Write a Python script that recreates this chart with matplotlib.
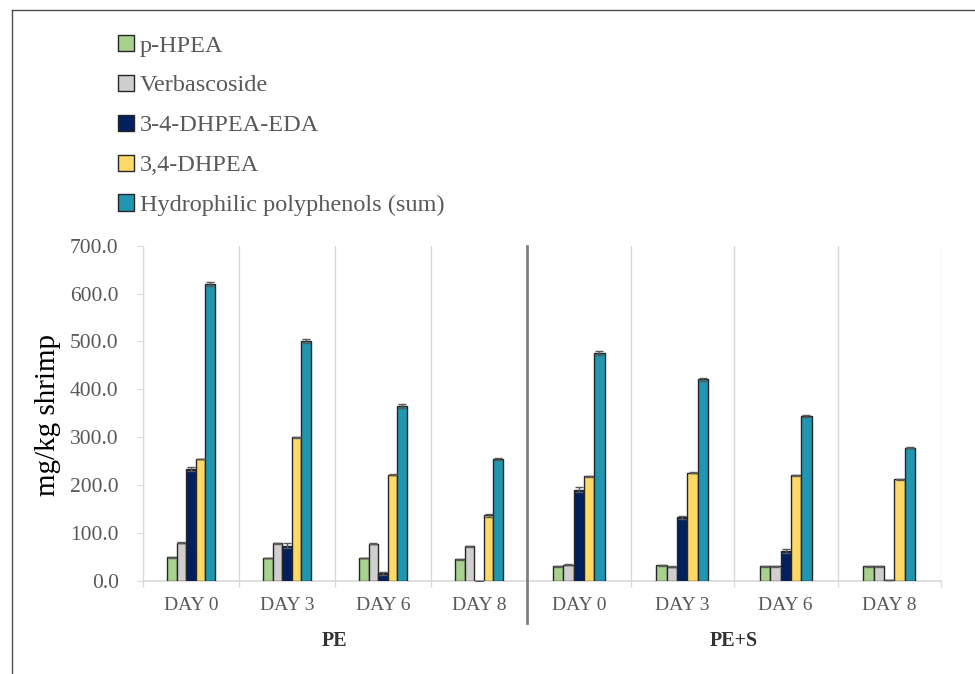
import matplotlib.pyplot as plt
from matplotlib.lines import Line2D
from matplotlib.transforms import blended_transform_factory
import numpy as np

plt.rcParams['font.family'] = ['Liberation Serif', 'DejaVu Serif']

# Data (mg/kg shrimp)
days = ["DAY 0", "DAY 3", "DAY 6", "DAY 8"]
groups = ["PE", "PE+S"]
series = ["p-HPEA", "Verbascoside", "3-4-DHPEA-EDA", "3,4-DHPEA",
          "Hydrophilic polyphenols (sum)"]
colors = ["#A9D18E", "#D0CECE", "#002060", "#FFD966", "#2196B0"]

p_hpea_pe = [49, 47, 47, 44]
p_hpea_pes = [30, 32, 30, 30]
verb_pe = [79, 78, 77, 72]
verb_pes = [33, 29, 30, 30]
eda_pe = [233, 73, 15, 0]
eda_pes = [190, 132, 61, 2]
dhpea_pe = [254, 299, 221, 136]
dhpea_pes = [218, 225, 220, 212]
sum_pe = [620, 500, 364, 254]
sum_pes = [475, 421, 344, 278]

# standard deviations
err_p_hpea_pe = [1, 1, 1, 1]
err_p_hpea_pes = [1, 1, 1, 1]
err_verb_pe = [1, 1, 1, 1]
err_verb_pes = [1, 1, 1, 1]
err_eda_pe = [4, 6, 3, 0]
err_eda_pes = [5, 3, 4, 0]
err_dhpea_pe = [1, 1, 1, 3]
err_dhpea_pes = [1, 1, 1, 1]
err_sum_pe = [4, 4, 4, 3]
err_sum_pes = [4, 3, 3, 2]

vals = {
    "PE": [p_hpea_pe, verb_pe, eda_pe, dhpea_pe, sum_pe],
    "PE+S": [p_hpea_pes, verb_pes, eda_pes, dhpea_pes, sum_pes],
}
errs = {
    "PE": [err_p_hpea_pe, err_verb_pe, err_eda_pe, err_dhpea_pe, err_sum_pe],
    "PE+S": [err_p_hpea_pes, err_verb_pes, err_eda_pes, err_dhpea_pes, err_sum_pes],
}

W, H = 975, 674
fig = plt.figure(figsize=(W / 100, H / 100), dpi=100)

def fx(px):
    return px / W

def fy(py):
    return 1 - py / H

bottom = fy(580.5)
height = fy(245.7) - bottom
ax1 = fig.add_axes([fx(143), bottom, fx(527 - 143), height])
ax2 = fig.add_axes([fx(527), bottom, fx(941 - 527), height])

grid_c = "#D9D9D9"
txt_c = "#595959"
x = np.arange(len(days))
bw = 0.1

for ax, g in zip([ax1, ax2], groups):
    for i in range(len(series)):
        ax.bar(x + (i - 2) * bw, vals[g][i], bw, color=colors[i],
               edgecolor="#262626", linewidth=1.0, label=series[i], zorder=3)
        ax.errorbar(x + (i - 2) * bw, vals[g][i], yerr=errs[g][i], fmt="none",
                    ecolor="#595959", elinewidth=1, capsize=2.6, capthick=1,
                    zorder=4)
    ax.set_xlim(-0.5, 3.5)
    ax.set_ylim(0, 700)
    ax.set_xticks(x)
    ax.set_xticklabels(days, fontsize=14, color=txt_c)
    ax.tick_params(axis="x", which="major", length=0, pad=12)
    ax.set_xticks(np.arange(-0.5, 4, 1), minor=True)
    ax.tick_params(axis="x", which="minor", length=4.5, color=grid_c, width=1)
    ax.grid(axis="x", which="minor", color=grid_c, linewidth=1, zorder=0)
    for s in ["top", "right", "left"]:
        ax.spines[s].set_visible(False)
    ax.spines["bottom"].set_color(grid_c)
    ax.spines["bottom"].set_linewidth(1.2)
    tr = blended_transform_factory(ax.transAxes, fig.transFigure)
    ax.text(0.5, fy(641), g, transform=tr, ha="center", va="center",
            fontsize=14.5, fontweight="bold", color="#333333")

ax1.spines["left"].set_visible(True)
ax1.spines["left"].set_color(grid_c)
ax1.set_yticks(np.arange(0, 701, 100))
ax1.set_yticklabels([f"{v:.1f}" for v in np.arange(0, 701, 100)],
                    fontsize=15.5, color=txt_c)
ax1.tick_params(axis="y", length=4.5, color=grid_c, pad=13)
ax2.set_yticks([])

fig.text(fx(48), fy(415), "mg/kg shrimp", rotation=90, ha="center",
         va="center", fontsize=21, color="black")

# separator between PE and PE+S
fig.add_artist(Line2D([fx(527), fx(527)], [fy(246), fy(623)],
                      color="#7F7F7F", linewidth=2.0))
# outer frame
fig.add_artist(Line2D([fx(12), 1], [fy(10), fy(10)], color="#4D4D4D", linewidth=1.0))
fig.add_artist(Line2D([fx(12), fx(12)], [fy(10), 0], color="#4D4D4D", linewidth=1.0))

handles, labels = ax1.get_legend_handles_labels()
fig.legend(handles, labels, loc="upper left", bbox_to_anchor=(fx(96), fy(13)),
           frameon=False, fontsize=17.5, labelcolor=txt_c, handlelength=0.65,
           handleheight=0.65, handletextpad=0.25, labelspacing=0.75)

fig.savefig("out.png", dpi=100)
